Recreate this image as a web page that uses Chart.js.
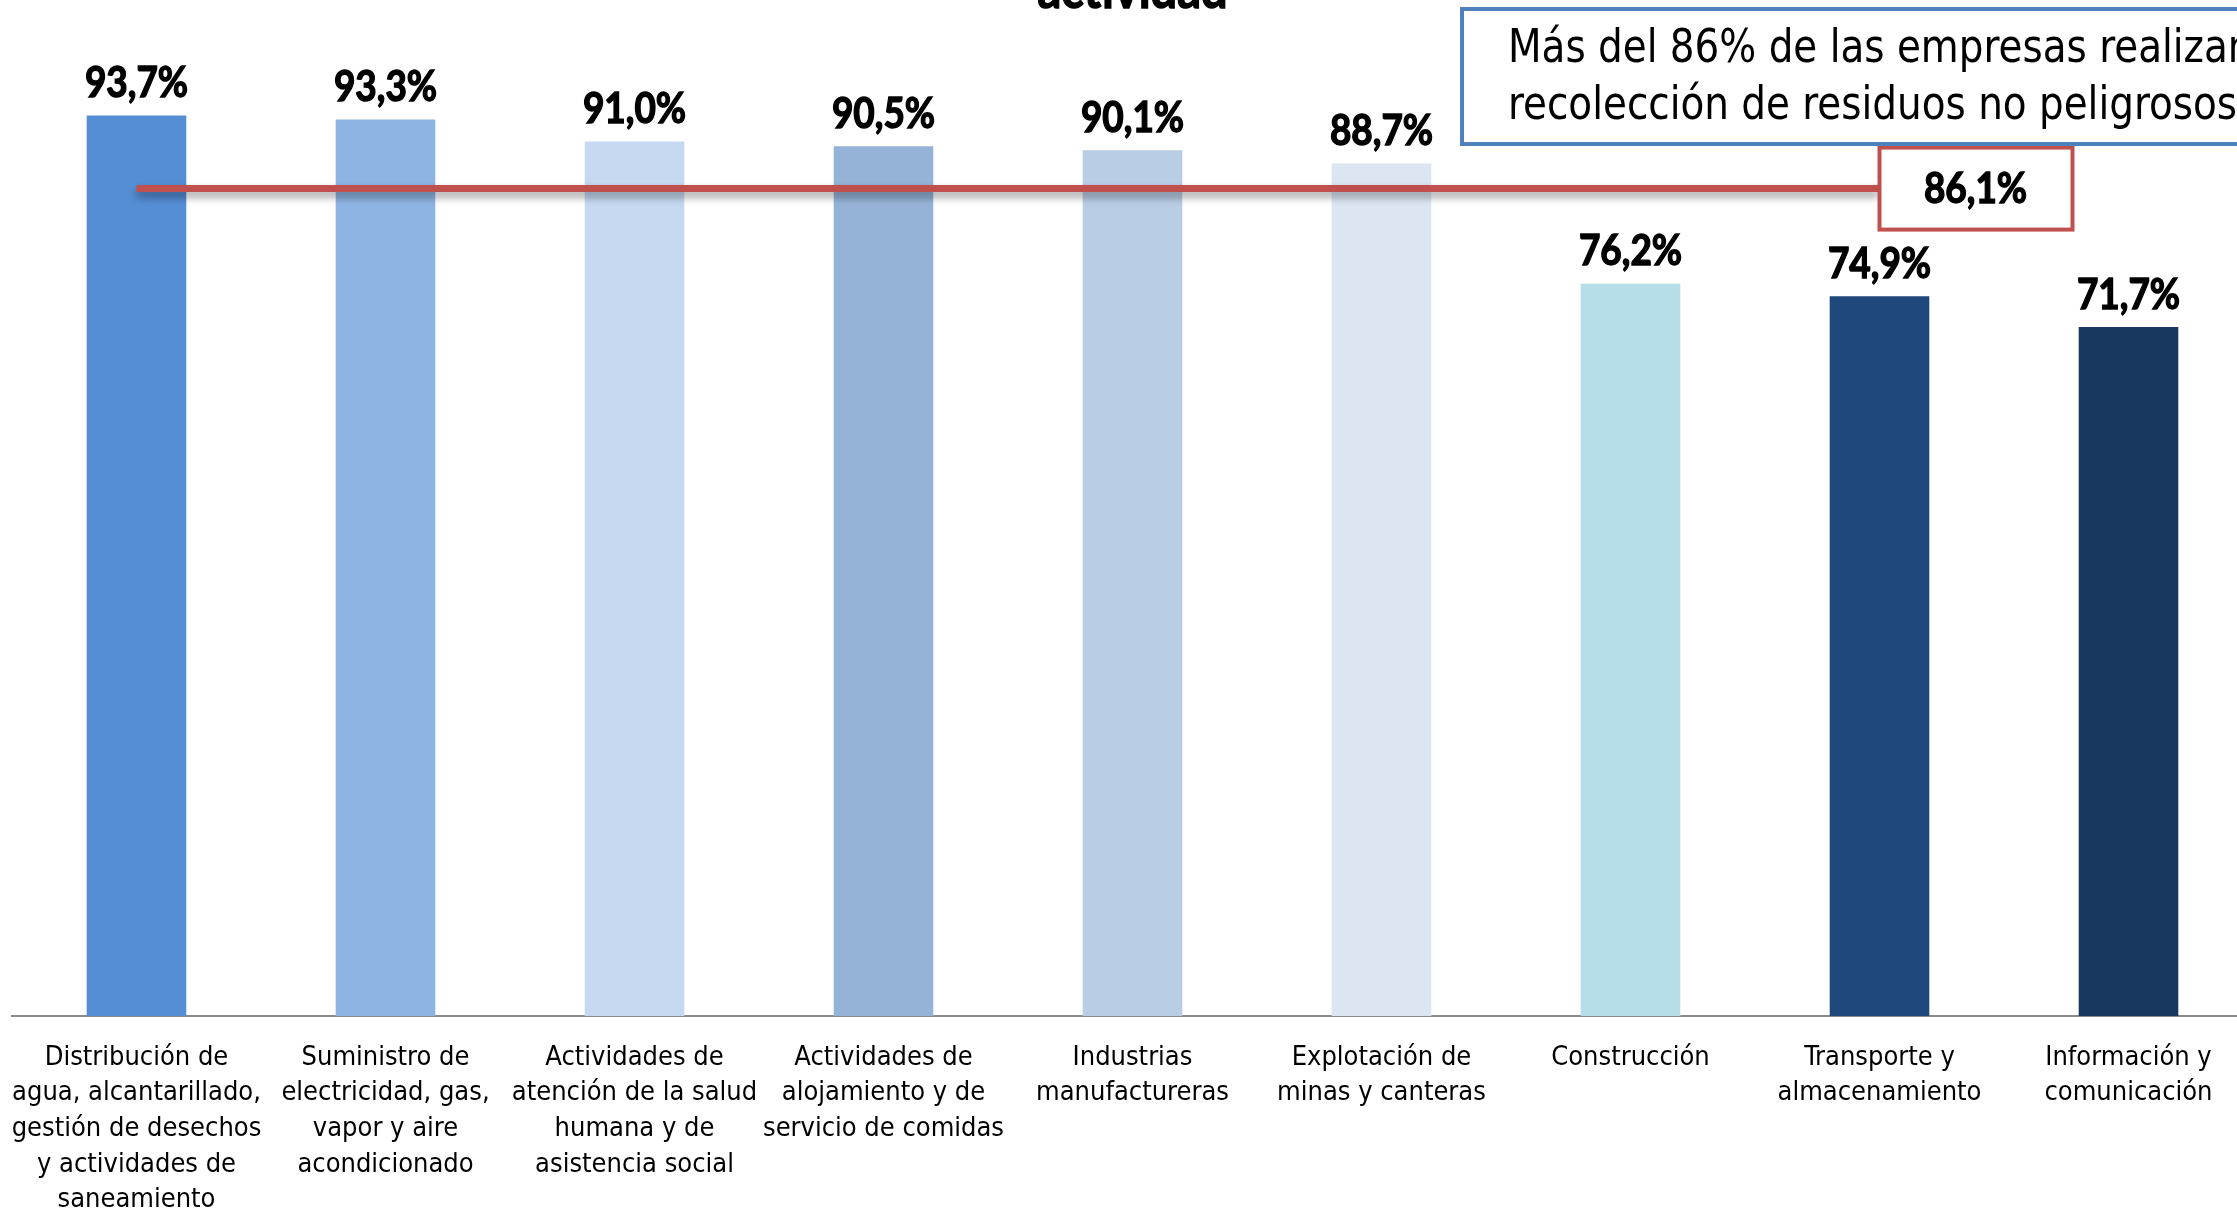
<!DOCTYPE html>
<html>
<head>
<meta charset="utf-8">
<script src="https://cdn.jsdelivr.net/npm/chart.js@4/dist/chart.umd.min.js"></script>
<style>
  html, body { margin: 0; padding: 0; overflow: hidden; background: #fff; }
  canvas { display: block; }
</style>
</head>
<body>
<canvas id="grafico" width="2253" height="1209"></canvas>
<script>
// Datos del grafico
const categorias = [
    ['Distribución de', 'agua, alcantarillado,', 'gestión de desechos', 'y actividades de', 'saneamiento'],
    ['Suministro de', 'electricidad, gas,', 'vapor y aire', 'acondicionado'],
    ['Actividades de', 'atención de la salud', 'humana y de', 'asistencia social'],
    ['Actividades de', 'alojamiento y de', 'servicio de comidas'],
    ['Industrias', 'manufactureras'],
    ['Explotación de', 'minas y canteras'],
    ['Construcción'],
    ['Transporte y', 'almacenamiento'],
    ['Información y', 'comunicación']
];
const porcentajes = [93.7, 93.3, 91.0, 90.5, 90.1, 88.7, 76.2, 74.9, 71.7];
const colores = ['#558ED5', '#8EB4E3', '#C6D9F1', '#95B3D7', '#B9CDE5', '#DCE6F2', '#B7DEE8', '#1F497D', '#17375E'];
const promedio = 86.1;
const tramoPromedio = 8; // la linea llega hasta la categoria 8

const fuenteAngosta = '"DejaVu Sans Condensed", "DejaVu Sans", sans-serif';
const formato = v => v.toFixed(1).replace('.', ',') + '%';

// texto comprimido horizontalmente (la fuente original es mas angosta)
function textoAngosto(ctx, texto, x, y, escala, grosor) {
    ctx.save();
    ctx.translate(x, y);
    ctx.scale(escala, 1);
    if (grosor) {
        ctx.lineWidth = grosor;
        ctx.strokeStyle = ctx.fillStyle;
        ctx.strokeText(texto, 0, 0);
    }
    ctx.fillText(texto, 0, 0);
    ctx.restore();
}

// Etiquetas, titulo y recuadros
const extras = {
    id: 'extras',
    beforeDatasetDraw(chart, args) {
        if (args.index === 1) {
            const ctx = chart.ctx;
            ctx.save();
            ctx.shadowColor = 'rgba(0,0,0,0.4)';
            ctx.shadowBlur = 8;
            ctx.shadowOffsetY = 5;
        }
    },
    afterDatasetDraw(chart, args) {
        if (args.index === 1) chart.ctx.restore();
    },
    afterDraw(chart) {
        const ctx = chart.ctx;
        const area = chart.chartArea;
        ctx.save();

        // valores sobre las barras
        const barras = chart.getDatasetMeta(0).data;
        ctx.fillStyle = '#000';
        ctx.font = 'bold 42px Lato, sans-serif';
        ctx.textAlign = 'center';
        ctx.textBaseline = 'middle';
        barras.forEach((b, i) => textoAngosto(ctx, formato(porcentajes[i]), b.x, b.y - 32, 0.88, 1.4));

        // titulo (cortado arriba)
        ctx.font = 'bold 52px Lato, sans-serif';
        ctx.textBaseline = 'alphabetic';
        textoAngosto(ctx, 'actividad', (area.left + area.right) / 2, 8, 0.9, 1.4);

        // recuadro del promedio
        const linea = chart.getDatasetMeta(1).data;
        const fin = linea[tramoPromedio - 1];
        ctx.fillStyle = '#fff';
        ctx.fillRect(fin.x, fin.y - 41, 193, 82);
        ctx.strokeStyle = '#C0504D';
        ctx.lineWidth = 4;
        ctx.strokeRect(fin.x, fin.y - 41, 193, 82);
        ctx.fillStyle = '#000';
        ctx.textBaseline = 'middle';
        ctx.font = 'bold 42px Lato, sans-serif';
        textoAngosto(ctx, formato(promedio), fin.x + 96, fin.y + 1, 0.88, 1.4);

        // nota superior
        ctx.strokeStyle = '#4F81BD';
        ctx.lineWidth = 4;
        ctx.strokeRect(1462, 9, 900, 135);
        ctx.textAlign = 'left';
        ctx.font = '46px ' + fuenteAngosta;
        textoAngosto(ctx, 'Más del 86% de las empresas realizan', 1508, 50, 0.94);
        textoAngosto(ctx, 'recolección de residuos no peligrosos', 1508, 107, 0.94);
        ctx.restore();
    }
};

const config = {
    type: 'bar',
    data: {
        labels: categorias,
        datasets: [{
            type: 'bar',
            data: porcentajes,
            backgroundColor: colores,
            categoryPercentage: 1,
            barPercentage: 0.4,
            order: 1
        }, {
            type: 'line',
            data: categorias.map((c, i) => i < tramoPromedio ? promedio : null),
            borderColor: '#C0504D',
            borderWidth: 7,
            pointRadius: 0,
            fill: false,
            order: 0
        }]
    },
    options: {
        responsive: false,
        animation: false,
        layout: { padding: { left: 12, top: 55, right: 0 } },
        plugins: {
            legend: { display: false },
            tooltip: { enabled: false }
        },
        scales: {
            x: {
                grid: { display: false },
                border: { color: '#8C8C8C', width: 2 },
                ticks: {
                    color: '#000',
                    font: { family: fuenteAngosta, size: 27, lineHeight: 1.32 },
                    padding: 16,
                    maxRotation: 0,
                    autoSkip: false
                },
                afterFit(scale) {
                    scale.height = 193;
                    scale.paddingLeft = 0;
                    scale.paddingRight = 0;
                }
            },
            y: {
                display: false,
                min: 0,
                max: 100
            }
        }
    },
    plugins: [extras]
};

new Chart(document.getElementById('grafico').getContext('2d'), config);
</script>
</body>
</html>
